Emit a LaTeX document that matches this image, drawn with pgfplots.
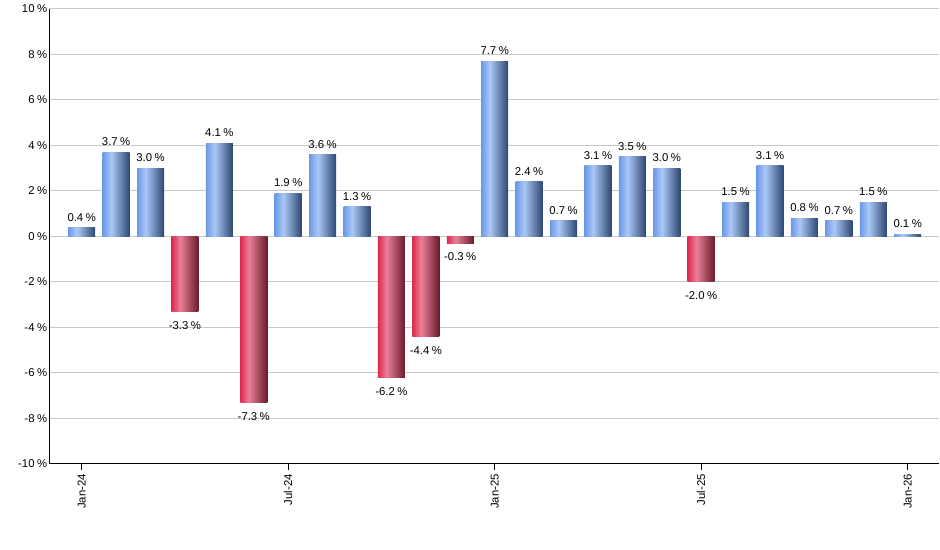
\documentclass[border=0pt]{standalone}
\usepackage{fontspec}
\setmainfont{Liberation Sans}
\usepackage{pgfplots}
\pgfplotsset{compat=1.18}

\definecolor{blueA}{HTML}{6C98E8}
\definecolor{blueB}{HTML}{AAC8F8}
\definecolor{blueC}{HTML}{2E4670}
\definecolor{redA}{HTML}{DE2A4E}
\definecolor{redB}{HTML}{E88098}
\definecolor{redC}{HTML}{6A1A2C}
\definecolor{gridgray}{HTML}{C8C8C8}

% visible part of a shading is 25bp..75bp
\pgfdeclarehorizontalshading{bluebar}{100bp}{color(0bp)=(blueA); color(25bp)=(blueA); color(41bp)=(blueB); color(75bp)=(blueC); color(100bp)=(blueC)}
\pgfdeclarehorizontalshading{redbar}{100bp}{color(0bp)=(redA); color(25bp)=(redA); color(41bp)=(redB); color(75bp)=(redC); color(100bp)=(redC)}

% one \addplot per bar so every bar gets its own shading
\pgfplotsset{
    posbar/.style={draw=none, shade, shading=bluebar,
        every node near coord/.append style={yshift=2pt}},
    negbar/.style={draw=none, shade, shading=redbar,
        every node near coord/.append style={yshift=-4.5pt}},
}

\begin{document}
\begin{tikzpicture}
\useasboundingbox (-36.75pt,-64.5pt) rectangle (668.25pt,348pt);
\begin{axis}[
    at={(0,0)}, anchor=south west,
    scale only axis,
    width=667.5pt, height=341.25pt,
    ybar, bar shift=0pt, bar width=0.785,
    xmin=-0.95, xmax=24.91,
    ymin=-10, ymax=10,
    ytick={-10,-8,...,10},
    xtick={0,6,12,18,24},
    xticklabels={Jan-24,Jul-24,Jan-25,Jul-25,Jan-26},
    axis x line*=bottom, axis y line*=left,
    axis line style={-, line width=0.75pt, black},
    ymajorgrids, grid style={gridgray, line width=0.75pt},
    ytick style={draw=none},
    xtick style={black, line width=0.75pt},
    tick align=outside, major tick length=4.5pt,
    /pgf/number format/assume math mode=true,
    tick label style={font=\fontsize{8.5}{10}\selectfont, black},
    yticklabel={\pgfmathprintnumber{\tick}\hspace{0.22em}\%},
    yticklabel style={inner xsep=1.2pt, xshift=4.5pt},
    xticklabel style={rotate=90, anchor=east, inner xsep=3pt},
    nodes near coords={\pgfmathprintnumber[fixed,fixed zerofill,precision=1]{\pgfplotspointmeta}\hspace{0.22em}\%},
    nodes near coords align={vertical},
    every node near coord/.append style={font=\fontsize{8.5}{10}\selectfont, black, inner sep=2.5pt},
    clip=false,
]
\addplot[posbar] coordinates {(0,0.4)};
\addplot[posbar] coordinates {(1,3.7)};
\addplot[posbar] coordinates {(2,3.0)};
\addplot[negbar] coordinates {(3,-3.3)};
\addplot[posbar] coordinates {(4,4.1)};
\addplot[negbar] coordinates {(5,-7.3)};
\addplot[posbar] coordinates {(6,1.9)};
\addplot[posbar] coordinates {(7,3.6)};
\addplot[posbar] coordinates {(8,1.3)};
\addplot[negbar] coordinates {(9,-6.2)};
\addplot[negbar] coordinates {(10,-4.4)};
\addplot[negbar] coordinates {(11,-0.3)};
\addplot[posbar] coordinates {(12,7.7)};
\addplot[posbar] coordinates {(13,2.4)};
\addplot[posbar] coordinates {(14,0.7)};
\addplot[posbar] coordinates {(15,3.1)};
\addplot[posbar] coordinates {(16,3.5)};
\addplot[posbar] coordinates {(17,3.0)};
\addplot[negbar] coordinates {(18,-2.0)};
\addplot[posbar] coordinates {(19,1.5)};
\addplot[posbar] coordinates {(20,3.1)};
\addplot[posbar] coordinates {(21,0.8)};
\addplot[posbar] coordinates {(22,0.7)};
\addplot[posbar] coordinates {(23,1.5)};
\addplot[posbar] coordinates {(24,0.1)};
\end{axis}
\end{tikzpicture}
\end{document}
